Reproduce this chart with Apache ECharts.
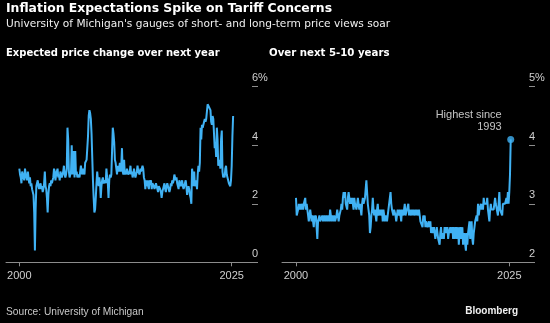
<!DOCTYPE html>
<html><head><meta charset="utf-8">
<script src="https://cdn.jsdelivr.net/npm/echarts@6/dist/echarts.min.js"></script>
<style>html,body{margin:0;padding:0;background:#000;}#c{width:550px;height:323px;}</style>
</head><body><div id="c"></div>
<script>
const startYear = 2000;
const xTicks = [2000, 2025];
const leftTicks = [0, 2, 4, 6];
const rightTicks = [2, 3, 4, 5];
const annotation = 'Highest since\n1993';

// Expected price change over next year (monthly, Jan 2000 - Mar 2025)
const oneYear = [
 3.2,3.0,2.9,2.7,3.1,3.0,2.9,2.8,3.2,3.0,3.0,2.8,
 3.1,2.9,2.7,2.9,2.6,2.7,2.5,2.5,2.3,1.7,0.4,1.8,
 2.6,2.7,2.8,2.6,2.5,2.6,2.7,2.5,2.6,2.4,2.5,2.7,
 3.1,2.6,2.5,2.2,1.7,2.3,2.6,2.7,2.6,2.8,2.7,2.8,
 2.9,3.2,3.1,2.8,3.0,3.1,3.2,2.9,3.0,2.8,3.1,3.0,
 2.9,3.0,3.1,3.3,3.0,2.9,3.0,3.2,4.6,4.2,3.1,2.9,
 2.9,3.1,4.0,3.0,3.2,3.8,2.9,3.8,3.0,3.1,2.9,3.0,
 3.0,2.9,3.1,3.3,3.1,3.0,3.2,3.1,3.0,3.4,3.4,3.5,
 3.5,4.3,5.0,5.2,5.1,4.9,4.4,3.6,2.8,2.2,1.7,1.8,
 2.2,2.7,3.1,2.8,2.6,2.9,2.7,2.2,2.6,2.8,2.9,2.7,
 2.7,2.8,2.7,3.2,2.9,2.7,2.2,2.8,3.0,2.9,3.0,3.8,
 4.6,4.4,4.1,3.5,3.4,3.2,3.0,3.3,3.1,3.2,3.4,3.1,
 3.3,3.9,3.1,3.0,3.5,3.0,3.1,3.0,3.2,3.2,3.0,3.0,
 3.1,3.3,3.0,3.1,2.9,3.0,3.2,3.0,2.9,3.0,3.1,3.3,
 3.1,3.1,3.0,3.2,3.1,3.2,3.3,3.2,2.9,2.8,2.5,2.8,
 2.6,2.8,2.6,2.5,2.8,2.7,2.8,2.5,2.7,2.7,2.6,2.5,
 2.5,2.7,2.6,2.5,2.4,2.6,2.6,2.5,2.4,2.2,2.4,2.5,
 2.6,2.7,2.5,2.4,2.6,2.7,2.6,2.6,2.4,2.5,2.7,2.6,
 2.8,2.7,2.8,3.0,2.9,2.8,2.9,2.7,2.7,2.5,2.8,2.8,
 2.6,2.7,2.8,2.6,2.5,2.6,2.7,2.8,2.6,2.3,2.5,2.6,
 2.5,2.3,2.2,2.0,3.2,3.0,2.6,3.1,2.6,2.6,2.8,2.5,
 3.0,3.3,3.1,3.4,4.6,4.2,4.7,4.6,4.6,4.8,4.9,4.8,
 4.9,4.9,5.4,5.4,5.3,5.3,5.2,4.8,4.7,5.0,4.9,4.4,
 3.9,4.1,3.6,4.6,4.2,3.3,3.4,3.5,3.2,4.2,4.5,3.1,
 2.9,3.0,2.9,3.2,3.3,3.0,2.9,2.8,2.7,2.7,2.6,2.8,
 3.3,4.3,5.0
];

// Over next 5-10 years (monthly, Jan 2000 - Mar 2025)
const longRun = [
 3.1,2.8,2.8,2.9,3.0,2.9,3.0,2.9,3.0,3.0,2.9,3.0,
 3.0,3.1,2.9,3.0,2.9,2.8,2.7,2.8,2.9,2.8,2.7,2.8,
 2.7,2.6,2.8,2.7,2.8,2.6,2.4,2.7,2.7,2.8,2.7,2.7,
 2.7,2.8,2.7,2.7,2.8,2.7,2.7,2.8,2.7,2.7,2.8,2.7,
 2.9,2.8,2.7,2.8,2.8,2.7,2.8,2.7,2.7,2.8,2.9,2.8,
 2.7,2.8,2.8,2.9,3.0,2.9,3.1,3.2,3.1,3.2,3.0,3.0,
 2.9,3.1,3.2,3.1,3.0,3.1,3.0,3.1,3.0,2.9,3.1,3.0,
 3.0,2.9,3.0,3.1,3.0,2.9,3.0,2.9,2.8,3.0,3.1,3.0,
 3.0,3.1,3.1,3.4,3.2,3.0,2.9,2.8,2.5,2.6,2.8,2.9,
 3.1,2.9,2.8,2.9,2.8,2.7,2.9,3.0,2.8,2.8,2.9,2.8,
 2.8,2.9,2.7,2.9,2.8,2.7,2.8,2.8,2.7,2.8,2.9,2.9,
 2.9,3.2,3.0,2.9,2.9,2.8,2.9,2.9,2.8,2.7,2.8,2.9,
 2.9,2.8,2.9,2.8,2.7,2.9,2.9,2.8,2.9,3.0,2.8,2.8,
 2.9,2.9,3.0,2.8,2.9,2.9,2.8,2.9,2.8,2.9,2.9,2.8,
 2.9,2.8,2.9,2.8,2.8,2.9,2.8,2.7,2.7,2.7,2.6,2.8,
 2.7,2.8,2.6,2.7,2.7,2.6,2.6,2.7,2.6,2.7,2.5,2.6,
 2.5,2.5,2.6,2.5,2.4,2.5,2.6,2.5,2.4,2.4,2.3,2.5,
 2.6,2.4,2.4,2.5,2.4,2.6,2.5,2.6,2.5,2.6,2.4,2.5,
 2.5,2.6,2.5,2.5,2.6,2.4,2.6,2.4,2.5,2.6,2.4,2.5,
 2.6,2.3,2.5,2.6,2.4,2.5,2.6,2.3,2.4,2.5,2.3,2.2,
 2.5,2.3,2.5,2.5,2.7,2.4,2.5,2.7,2.4,2.3,2.5,2.5,
 2.7,2.7,2.8,2.7,3.0,2.8,2.9,2.9,3.0,2.9,3.0,2.9,
 3.1,3.0,3.0,3.0,3.0,3.1,2.9,2.9,2.7,2.9,3.0,2.9,
 2.9,2.9,2.9,3.0,3.1,3.0,3.0,3.0,2.8,3.0,3.2,2.9,
 2.9,2.9,2.8,3.0,3.0,3.0,3.0,3.0,3.1,3.0,3.2,3.0,
 3.2,3.5,4.1
];

const toPairs = arr => arr.map((v, i) => [startYear + i / 12, v]);
const leftData = toPairs(oneYear);
const rightData = toPairs(longRun);
const lastRight = rightData[rightData.length - 1];

const FONT = 'Liberation Sans';
const LINE = '#40b2f4';
const AX = '#8c8c8c';
const LBL = '#cfcfcf';

function xAxis(idx, min, max) {
  return {
    type: 'value', gridIndex: idx, min: min, max: max,
    axisLine: { show: true, lineStyle: { color: AX, width: 1 } },
    axisTick: { show: true, customValues: xTicks, length: 4, lineStyle: { color: AX } },
    axisLabel: { customValues: xTicks, formatter: v => String(v), margin: 8,
      color: LBL, fontSize: 11, fontFamily: FONT },
    splitLine: { show: false }
  };
}
function yAxis(idx, ticks) {
  const mn = ticks[0], mx = ticks[ticks.length - 1];
  return {
    type: 'value', gridIndex: idx, position: 'right',
    min: mn, max: mx, interval: ticks[1] - ticks[0],
    axisLine: { show: false },
    axisTick: { show: true, length: 6, lineStyle: { color: AX } },
    axisLabel: { margin: 0, verticalAlign: 'bottom', padding: [0, 0, 3, 0],
      showMinLabel: true, showMaxLabel: true,
      formatter: v => (v === mx ? v + '%' : String(v)),
      color: LBL, fontSize: 11, fontFamily: FONT },
    splitLine: { show: false }
  };
}

const chart = echarts.init(document.getElementById('c'), null, { renderer: 'canvas' });
chart.setOption({
  backgroundColor: '#000',
  animation: false,
  grid: [
    { left: 6, right: 550 - 252, top: 86.7, bottom: 323 - 262.3, containLabel: false },
    { left: 282, right: 550 - 529, top: 86.7, bottom: 323 - 262.3, containLabel: false }
  ],
  xAxis: [ xAxis(0, 1998.43, 2027.39), xAxis(1, 1998.36, 2027.31) ],
  yAxis: [ yAxis(0, leftTicks), yAxis(1, rightTicks) ],
  series: [
    { type: 'line', xAxisIndex: 0, yAxisIndex: 0, data: leftData, symbol: 'none',
      lineStyle: { color: LINE, width: 2 }, silent: true },
    { type: 'line', xAxisIndex: 1, yAxisIndex: 1, data: rightData, symbol: 'none',
      lineStyle: { color: LINE, width: 2 }, silent: true },
    { type: 'scatter', xAxisIndex: 1, yAxisIndex: 1, data: [lastRight], symbol: 'circle',
      symbolSize: 7, itemStyle: { color: LINE },
      label: { show: true, position: 'top', distance: 3, align: 'right', offset: [-9, 0],
        formatter: annotation, color: '#f2f2f2', fontSize: 11, lineHeight: 12, fontFamily: FONT } }
  ],
  graphic: [
    { type: 'text', left: 6, top: 3, style: { text: 'Inflation Expectations Spike on Tariff Concerns',
      fill: '#fff', font: 'bold 12.4px "DejaVu Sans"' } },
    { type: 'text', left: 6, top: 18.5, style: { text: "University of Michigan's gauges of short- and long-term price views soar",
      fill: '#f0f0f0', font: '10.6px "DejaVu Sans"' } },
    { type: 'text', left: 6, top: 48, style: { text: 'Expected price change over next year',
      fill: '#fff', font: 'bold 10px "DejaVu Sans"' } },
    { type: 'text', left: 269, top: 48, style: { text: 'Over next 5-10 years',
      fill: '#fff', font: 'bold 10.2px "DejaVu Sans"' } },
    { type: 'text', left: 6, top: 307, style: { text: 'Source: University of Michigan',
      fill: '#c8c8c8', font: '10.2px "Liberation Sans"' } },
    { type: 'text', right: 32, top: 306, style: { text: 'Bloomberg',
      fill: '#f0f0f0', font: 'bold 10px "Liberation Sans"' } }
  ]
});
</script></body></html>
